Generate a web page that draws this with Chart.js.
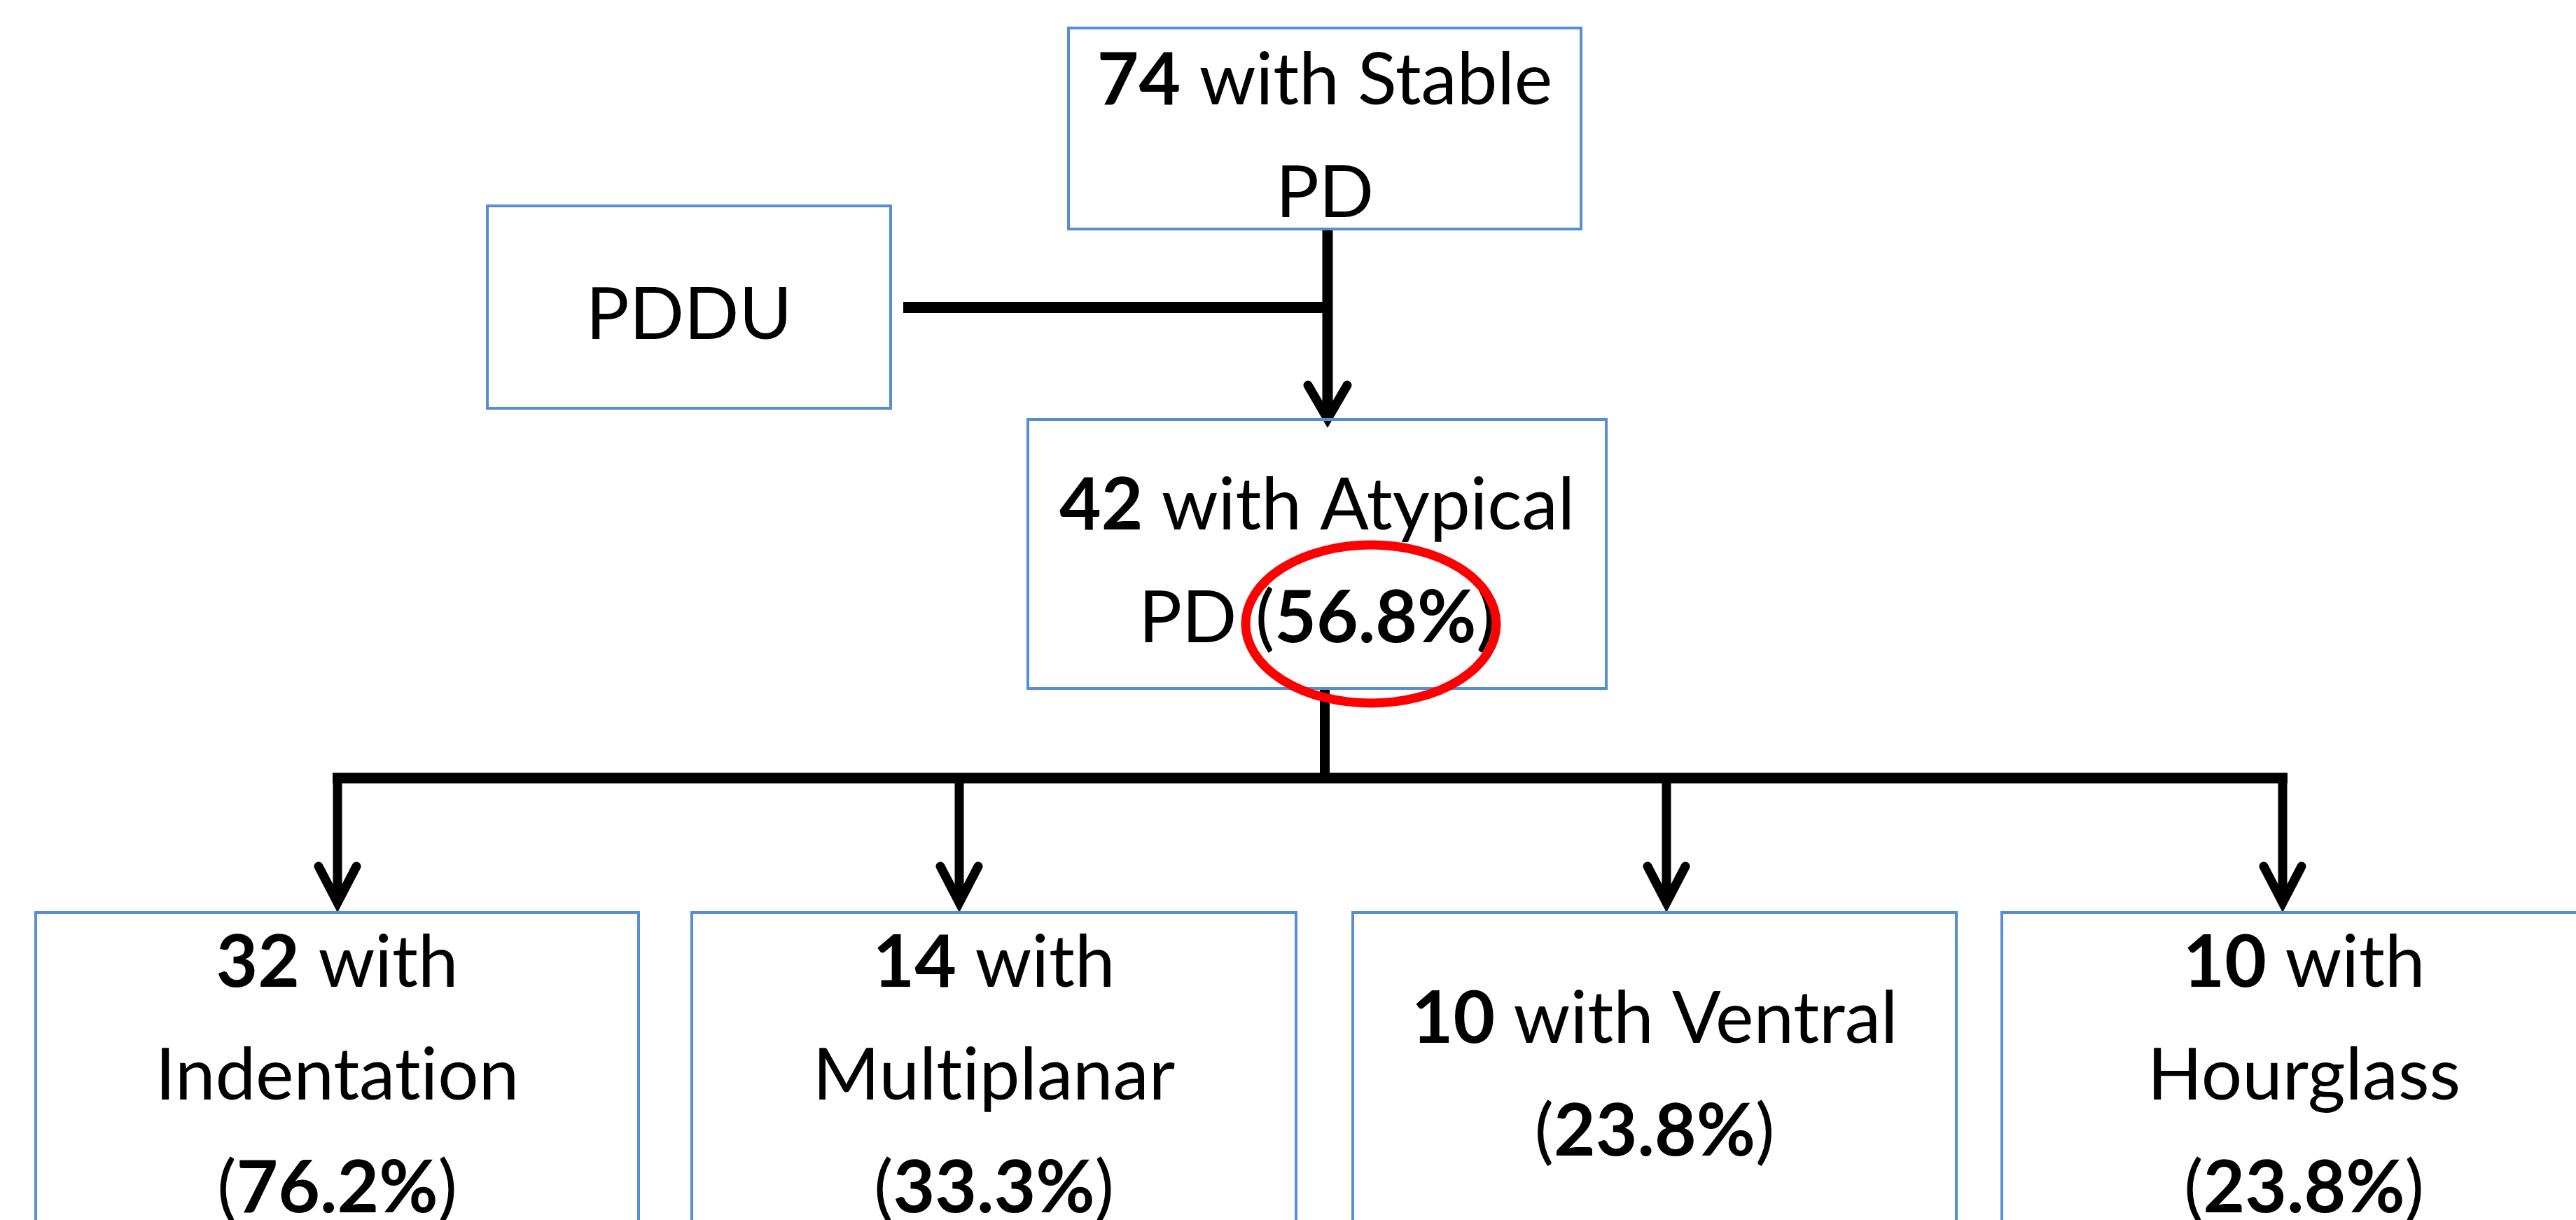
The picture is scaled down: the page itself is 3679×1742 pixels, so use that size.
<!DOCTYPE html>
<html>
<head>
<meta charset="utf-8">
<script src="https://cdn.jsdelivr.net/npm/chart.js@4"></script>
<style>
  html, body { margin: 0; padding: 0; background: #fff; }
  #wrap { width: 3679px; height: 1742px; }
</style>
</head>
<body>
<div id="wrap"><canvas id="myChart"></canvas></div>
<script>
// flowchart data
const nodeCounts = [74, null, 42, 32, 14, 10, 10];
const nodeNames = ['Stable PD', 'PDDU', 'Atypical PD', 'Indentation', 'Multiplanar', 'Ventral', 'Hourglass'];
const nodePercents = [null, null, 56.8, 76.2, 33.3, 23.8, 23.8];
const links = [[0, 2], [1, 2], [2, 3], [2, 4], [2, 5], [2, 6]];

// layout, in the chart's own units (x: 0..3679, y: 0..1742 top-down)
const boxes = [
  [1526, 40, 2258, 327],
  [696, 294, 1272, 583],
  [1468, 599, 2294, 983],
  [51, 1303, 912, 1745],
  [988, 1303, 1851, 1745],
  [1932, 1303, 2794, 1745],
  [2859, 1303, 3722, 1745]
];
// "*...*" = bold, "|" = line break
const templates = [
  '*{n}* with {w0}|{w1}',
  '{w0}',
  '*{n}* with {w0}|{w1} (*{p}*)',
  '*{n}* with|{w0}|(*{p}*)',
  '*{n}* with|{w0}|(*{p}*)',
  '*{n}* with {w0}|(*{p}*)',
  '*{n}* with|{w0}|(*{p}*)'
];
const trunkX = [1896, 1892];
const pdduY = 439;
const busY = 1111;
const dropX = [482, 1370, 2380, 3260];
const highlight = {node: 2, cx: 1958, cy: 891, rx: 179, ry: 113};

const FONT = 'Lato, "Open Sans", sans-serif';
const FONT_SIZE = 103;
const LINE_H = 161;
const BORDER = '#558ED5';

function nodeText(i) {
  const words = nodeNames[i].split(' ');
  let t = templates[i]
    .replace('{n}', nodeCounts[i])
    .replace('{p}', nodePercents[i] == null ? '' : nodePercents[i].toFixed(1) + '%');
  words.forEach((w, k) => { t = t.replace('{w' + k + '}', w); });
  // keep Lato from joining "ti" / "fi" into ligatures
  t = t.replace(/([tf])([il])/g, '$1\u200C$2');
  return t.split('|').map(line => line.split('*').map((s, k) => [s, k % 2 === 1]).filter(s => s[0]));
}

const flowPlugin = {
  id: 'flow',
  beforeDraw(chart) {
    const c = chart.ctx;
    c.save();
    c.fillStyle = '#fff';
    c.fillRect(0, 0, chart.width, chart.height);
    c.restore();
  },
  afterDraw(chart) {
    const c = chart.ctx;
    const sx = chart.scales.x, sy = chart.scales.y;
    const X = v => sx.getPixelForValue(v);
    const Y = v => sy.getPixelForValue(v);

    function line(x1, y1, x2, y2, w) {
      c.beginPath();
      c.lineWidth = w;
      c.lineCap = 'butt';
      c.moveTo(X(x1), Y(y1));
      c.lineTo(X(x2), Y(y2));
      c.stroke();
    }
    function arrowHead(x, tipY, halfW, len, w) {
      c.beginPath();
      c.lineWidth = w;
      c.lineCap = 'round';
      c.lineJoin = 'miter';
      c.miterLimit = 10;
      c.moveTo(X(x - halfW), Y(tipY - len));
      c.lineTo(X(x), Y(tipY));
      c.lineTo(X(x + halfW), Y(tipY - len));
      c.stroke();
    }

    c.save();
    c.strokeStyle = '#000';

    // connectors
    const top = boxes[0], pd = boxes[1], at = boxes[2];
    line(trunkX[0], top[3], trunkX[0], at[1] - 2, 15);
    line(pd[2] + 18, pdduY, trunkX[0] + 7, pdduY, 16);
    arrowHead(trunkX[0], at[1] - 1, 28, 48, 13);

    line(trunkX[1], at[3], trunkX[1], busY, 14);
    line(dropX[0] - 7, busY, dropX[dropX.length - 1] + 7, busY, 15);
    links.filter(l => l[0] === 2).forEach((l, k) => {
      const b = boxes[l[1]];
      line(dropX[k], busY, dropX[k], b[1] - 14, 13);
      arrowHead(dropX[k], b[1] - 14, 27, 52, 13);
    });

    // boxes
    boxes.forEach((b, i) => {
      c.lineWidth = 4;
      c.strokeStyle = BORDER;
      c.strokeRect(X(b[0]), Y(b[1]), X(b[2]) - X(b[0]), Y(b[3]) - Y(b[1]));
    });

    // texts
    c.fillStyle = '#000';
    c.textBaseline = 'alphabetic';
    boxes.forEach((b, i) => {
      const lines = nodeText(i);
      const cx = X((b[0] + b[2]) / 2);
      const cy = Y((b[1] + b[3]) / 2) + 9;
      const capHalf = FONT_SIZE * 0.7165 / 2;
      lines.forEach((segs, li) => {
        const widths = segs.map(s => {
          c.font = (s[1] ? 'bold ' : '') + FONT_SIZE + 'px ' + FONT;
          return c.measureText(s[0]).width;
        });
        const total = widths.reduce((a, v) => a + v, 0);
        let x = cx - total / 2;
        const base = cy + (li - (lines.length - 1) / 2) * LINE_H + capHalf;
        segs.forEach((s, k) => {
          c.font = (s[1] ? 'bold ' : '') + FONT_SIZE + 'px ' + FONT;
          c.textAlign = 'left';
          c.fillText(s[0], x, base);
          x += widths[k];
        });
      });
    });

    // red highlight round the percentage
    c.beginPath();
    c.strokeStyle = '#FF0000';
    c.lineWidth = 13;
    c.ellipse(X(highlight.cx), Y(highlight.cy), highlight.rx, highlight.ry, 0, 0, Math.PI * 2);
    c.stroke();
    c.restore();
  }
};

const ctx = document.getElementById('myChart');
new Chart(ctx, {
  type: 'scatter',
  data: {
    datasets: [{
      label: 'nodes',
      data: boxes.map((b, i) => ({x: (b[0] + b[2]) / 2, y: (b[1] + b[3]) / 2, count: nodeCounts[i]})),
      pointRadius: 0
    }]
  },
  options: {
    responsive: true,
    maintainAspectRatio: false,
    animation: false,
    layout: { padding: 0 },
    plugins: {
      legend: { display: false },
      tooltip: { enabled: false }
    },
    scales: {
      x: { type: 'linear', min: 0, max: 3679, display: false },
      y: { type: 'linear', min: 0, max: 1742, reverse: true, display: false }
    }
  },
  plugins: [flowPlugin]
});
</script>
</body>
</html>
